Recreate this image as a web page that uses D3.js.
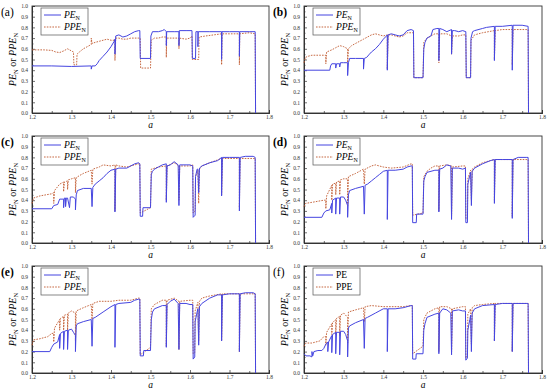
<!DOCTYPE html>
<html>
<head>
<meta charset="utf-8">
<script src="https://cdn.jsdelivr.net/npm/d3@7"></script>
<style>
  body { margin: 0; background: #fff; }
  svg, svg text { font-family: "Liberation Serif", "Times New Roman", serif; }
</style>
</head>
<body>
<svg id="chart" width="550" height="392"></svg>
<script>
// x ticks / y ticks
var xTicks = [1.2, 1.3, 1.4, 1.5, 1.6, 1.7, 1.8];
var yTicks = [0, 0.1, 0.2, 0.3, 0.4, 0.5, 0.6, 0.7, 0.8, 0.9, 1.0];
var panelLabels = ["(a)", "(b)", "(c)", "(d)", "(e)", "(f)"];

// [a, value]
var peA = [[1.2,0.44],[1.25,0.44],[1.3,0.435],[1.35,0.44],[1.35,0.41],[1.352,0.44],[1.36,0.44],[1.365,0.46],[1.37,0.49],[1.38,0.53],[1.39,0.57],[1.40,0.62],[1.408,0.67],[1.41,0.69],[1.41,0.55],[1.412,0.72],[1.42,0.73],[1.43,0.71],[1.44,0.72],[1.45,0.74],[1.46,0.76],[1.47,0.77],[1.473,0.77],[1.474,0.51],[1.50,0.51],[1.501,0.72],[1.505,0.76],[1.52,0.76],[1.53,0.77],[1.535,0.78],[1.54,0.76],[1.54,0.63],[1.541,0.76],[1.56,0.76],[1.572,0.76],[1.572,0.63],[1.573,0.77],[1.59,0.77],[1.605,0.77],[1.606,0.51],[1.614,0.51],[1.615,0.76],[1.62,0.76],[1.62,0.62],[1.621,0.76],[1.65,0.76],[1.68,0.76],[1.68,0.5],[1.681,0.76],[1.70,0.76],[1.725,0.76],[1.725,0.53],[1.726,0.76],[1.75,0.76],[1.765,0.76],[1.766,0.0]];
var ppeA = [[1.2,0.59],[1.23,0.59],[1.25,0.585],[1.26,0.57],[1.27,0.565],[1.28,0.58],[1.29,0.60],[1.30,0.58],[1.305,0.57],[1.306,0.45],[1.313,0.45],[1.314,0.55],[1.32,0.57],[1.33,0.60],[1.34,0.62],[1.35,0.64],[1.35,0.70],[1.352,0.65],[1.36,0.66],[1.37,0.67],[1.38,0.68],[1.39,0.69],[1.40,0.68],[1.41,0.68],[1.41,0.49],[1.412,0.70],[1.42,0.70],[1.43,0.69],[1.44,0.69],[1.45,0.70],[1.46,0.70],[1.47,0.70],[1.474,0.70],[1.475,0.42],[1.50,0.42],[1.502,0.68],[1.51,0.70],[1.52,0.70],[1.53,0.71],[1.54,0.71],[1.54,0.52],[1.541,0.70],[1.56,0.70],[1.572,0.70],[1.572,0.6],[1.573,0.70],[1.59,0.69],[1.60,0.70],[1.605,0.72],[1.606,0.5],[1.622,0.5],[1.623,0.71],[1.64,0.72],[1.66,0.73],[1.68,0.74],[1.68,0.45],[1.681,0.74],[1.70,0.74],[1.725,0.74],[1.725,0.45],[1.726,0.74],[1.75,0.75],[1.765,0.74],[1.766,0.0]];

var peB = [[1.2,0.40],[1.265,0.40],[1.267,0.44],[1.27,0.46],[1.28,0.46],[1.28,0.42],[1.282,0.46],[1.29,0.46],[1.29,0.43],[1.292,0.47],[1.30,0.47],[1.31,0.47],[1.31,0.35],[1.312,0.47],[1.315,0.51],[1.33,0.51],[1.35,0.51],[1.35,0.41],[1.352,0.51],[1.358,0.52],[1.365,0.55],[1.37,0.57],[1.38,0.60],[1.39,0.64],[1.40,0.69],[1.408,0.72],[1.41,0.73],[1.41,0.40],[1.412,0.73],[1.42,0.74],[1.43,0.73],[1.44,0.72],[1.45,0.73],[1.46,0.77],[1.47,0.78],[1.476,0.77],[1.477,0.33],[1.50,0.33],[1.502,0.6],[1.505,0.66],[1.51,0.70],[1.52,0.72],[1.525,0.78],[1.535,0.79],[1.54,0.79],[1.54,0.49],[1.542,0.79],[1.55,0.78],[1.56,0.76],[1.572,0.78],[1.572,0.55],[1.574,0.77],[1.58,0.77],[1.59,0.76],[1.60,0.77],[1.608,0.76],[1.609,0.33],[1.62,0.33],[1.621,0.7],[1.625,0.76],[1.63,0.77],[1.65,0.79],[1.66,0.80],[1.68,0.81],[1.68,0.49],[1.682,0.81],[1.70,0.81],[1.725,0.82],[1.725,0.40],[1.727,0.82],[1.75,0.82],[1.765,0.81],[1.766,0.0]];
var ppeB = [[1.2,0.47],[1.204,0.52],[1.21,0.53],[1.22,0.54],[1.25,0.54],[1.255,0.54],[1.255,0.46],[1.257,0.57],[1.27,0.59],[1.28,0.61],[1.29,0.63],[1.30,0.62],[1.31,0.6],[1.31,0.47],[1.312,0.6],[1.32,0.63],[1.33,0.65],[1.34,0.67],[1.35,0.69],[1.36,0.71],[1.37,0.73],[1.38,0.74],[1.39,0.73],[1.40,0.72],[1.41,0.73],[1.41,0.41],[1.412,0.73],[1.42,0.73],[1.44,0.71],[1.45,0.72],[1.46,0.75],[1.47,0.75],[1.476,0.75],[1.477,0.33],[1.50,0.33],[1.502,0.66],[1.51,0.70],[1.52,0.72],[1.53,0.74],[1.54,0.74],[1.54,0.47],[1.542,0.74],[1.56,0.74],[1.572,0.72],[1.572,0.55],[1.574,0.72],[1.59,0.72],[1.60,0.73],[1.608,0.73],[1.609,0.33],[1.62,0.33],[1.621,0.68],[1.63,0.73],[1.65,0.75],[1.68,0.77],[1.68,0.5],[1.682,0.77],[1.70,0.78],[1.725,0.78],[1.725,0.45],[1.727,0.78],[1.76,0.78],[1.765,0.78],[1.766,0.0]];

var peC = [[1.2,0.32],[1.25,0.32],[1.255,0.35],[1.265,0.36],[1.27,0.41],[1.28,0.41],[1.28,0.33],[1.282,0.42],[1.285,0.42],[1.285,0.34],[1.287,0.42],[1.29,0.42],[1.295,0.33],[1.297,0.43],[1.305,0.43],[1.31,0.41],[1.31,0.31],[1.312,0.45],[1.315,0.49],[1.33,0.51],[1.35,0.51],[1.352,0.34],[1.354,0.52],[1.36,0.55],[1.37,0.58],[1.38,0.61],[1.39,0.65],[1.40,0.68],[1.41,0.69],[1.41,0.29],[1.412,0.69],[1.42,0.70],[1.44,0.70],[1.45,0.72],[1.46,0.74],[1.47,0.75],[1.473,0.74],[1.474,0.25],[1.48,0.25],[1.481,0.33],[1.50,0.33],[1.502,0.64],[1.505,0.67],[1.51,0.69],[1.52,0.71],[1.53,0.73],[1.54,0.74],[1.54,0.38],[1.542,0.72],[1.55,0.73],[1.56,0.76],[1.57,0.73],[1.572,0.35],[1.574,0.73],[1.59,0.73],[1.60,0.73],[1.607,0.72],[1.608,0.24],[1.613,0.26],[1.614,0.62],[1.618,0.69],[1.62,0.69],[1.622,0.47],[1.624,0.70],[1.63,0.72],[1.65,0.75],[1.67,0.77],[1.68,0.80],[1.68,0.44],[1.682,0.80],[1.70,0.80],[1.725,0.80],[1.725,0.30],[1.727,0.80],[1.74,0.81],[1.76,0.81],[1.765,0.80],[1.766,0.0]];
var ppeC = [[1.2,0.37],[1.204,0.42],[1.22,0.44],[1.25,0.46],[1.255,0.47],[1.255,0.37],[1.257,0.49],[1.27,0.55],[1.28,0.57],[1.28,0.48],[1.282,0.57],[1.29,0.58],[1.29,0.50],[1.292,0.59],[1.30,0.60],[1.31,0.61],[1.31,0.47],[1.312,0.61],[1.32,0.63],[1.33,0.65],[1.35,0.68],[1.352,0.55],[1.354,0.69],[1.37,0.71],[1.38,0.73],[1.40,0.72],[1.41,0.73],[1.41,0.30],[1.412,0.73],[1.42,0.72],[1.44,0.71],[1.46,0.73],[1.47,0.74],[1.473,0.74],[1.474,0.28],[1.50,0.33],[1.502,0.69],[1.52,0.71],[1.54,0.72],[1.54,0.40],[1.542,0.72],[1.56,0.75],[1.572,0.72],[1.572,0.40],[1.574,0.72],[1.60,0.72],[1.607,0.73],[1.608,0.28],[1.613,0.30],[1.614,0.62],[1.62,0.68],[1.622,0.37],[1.624,0.69],[1.63,0.72],[1.65,0.75],[1.68,0.79],[1.68,0.45],[1.682,0.79],[1.70,0.79],[1.725,0.79],[1.725,0.33],[1.727,0.79],[1.76,0.79],[1.765,0.79],[1.766,0.0]];

var peD = [[1.2,0.24],[1.245,0.24],[1.25,0.28],[1.255,0.30],[1.265,0.31],[1.27,0.37],[1.27,0.28],[1.272,0.40],[1.28,0.42],[1.28,0.27],[1.282,0.42],[1.29,0.42],[1.29,0.27],[1.292,0.43],[1.30,0.43],[1.305,0.40],[1.31,0.35],[1.31,0.24],[1.312,0.45],[1.315,0.49],[1.33,0.51],[1.35,0.53],[1.352,0.27],[1.354,0.54],[1.36,0.55],[1.37,0.58],[1.38,0.61],[1.39,0.64],[1.40,0.67],[1.41,0.68],[1.41,0.22],[1.412,0.68],[1.43,0.68],[1.45,0.69],[1.46,0.71],[1.47,0.72],[1.473,0.72],[1.474,0.19],[1.483,0.19],[1.484,0.27],[1.50,0.27],[1.502,0.58],[1.505,0.62],[1.51,0.66],[1.53,0.68],[1.54,0.68],[1.54,0.29],[1.542,0.69],[1.55,0.70],[1.56,0.73],[1.57,0.72],[1.572,0.22],[1.574,0.70],[1.59,0.70],[1.60,0.69],[1.607,0.70],[1.608,0.19],[1.612,0.19],[1.613,0.55],[1.618,0.63],[1.62,0.66],[1.622,0.35],[1.624,0.67],[1.63,0.70],[1.65,0.74],[1.67,0.77],[1.68,0.78],[1.68,0.37],[1.682,0.78],[1.70,0.78],[1.725,0.78],[1.725,0.23],[1.727,0.78],[1.74,0.80],[1.76,0.80],[1.765,0.80],[1.766,0.0]];
var ppeD = [[1.2,0.34],[1.204,0.37],[1.22,0.38],[1.25,0.40],[1.255,0.40],[1.255,0.32],[1.257,0.44],[1.27,0.54],[1.27,0.40],[1.272,0.55],[1.28,0.56],[1.28,0.45],[1.282,0.57],[1.29,0.58],[1.29,0.45],[1.292,0.59],[1.30,0.60],[1.31,0.60],[1.31,0.35],[1.312,0.62],[1.33,0.65],[1.35,0.69],[1.352,0.55],[1.354,0.69],[1.37,0.72],[1.38,0.73],[1.40,0.71],[1.42,0.70],[1.45,0.71],[1.47,0.74],[1.473,0.74],[1.474,0.26],[1.50,0.28],[1.502,0.62],[1.51,0.67],[1.52,0.70],[1.53,0.72],[1.54,0.72],[1.54,0.30],[1.542,0.72],[1.56,0.73],[1.572,0.72],[1.572,0.25],[1.574,0.71],[1.60,0.72],[1.607,0.72],[1.608,0.23],[1.612,0.23],[1.613,0.60],[1.62,0.68],[1.622,0.40],[1.624,0.69],[1.63,0.71],[1.65,0.75],[1.68,0.78],[1.68,0.40],[1.682,0.78],[1.725,0.78],[1.725,0.25],[1.727,0.78],[1.76,0.78],[1.765,0.78],[1.766,0.0]];

var peE = [[1.2,0.20],[1.245,0.20],[1.25,0.24],[1.255,0.27],[1.265,0.29],[1.27,0.36],[1.27,0.23],[1.272,0.37],[1.28,0.39],[1.28,0.22],[1.282,0.39],[1.29,0.40],[1.29,0.22],[1.292,0.40],[1.30,0.41],[1.305,0.38],[1.31,0.35],[1.31,0.20],[1.312,0.44],[1.315,0.46],[1.33,0.48],[1.35,0.50],[1.352,0.25],[1.354,0.51],[1.36,0.52],[1.38,0.57],[1.40,0.62],[1.41,0.64],[1.41,0.24],[1.412,0.64],[1.42,0.65],[1.45,0.66],[1.46,0.68],[1.47,0.69],[1.473,0.69],[1.474,0.16],[1.482,0.16],[1.483,0.21],[1.50,0.21],[1.502,0.50],[1.505,0.57],[1.51,0.60],[1.53,0.63],[1.54,0.63],[1.54,0.24],[1.542,0.64],[1.55,0.67],[1.56,0.69],[1.57,0.65],[1.572,0.22],[1.574,0.65],[1.59,0.65],[1.60,0.64],[1.607,0.64],[1.608,0.13],[1.612,0.15],[1.613,0.48],[1.618,0.57],[1.62,0.60],[1.622,0.26],[1.624,0.62],[1.63,0.65],[1.65,0.70],[1.67,0.73],[1.68,0.73],[1.68,0.30],[1.682,0.73],[1.70,0.74],[1.725,0.74],[1.725,0.20],[1.727,0.74],[1.74,0.75],[1.76,0.75],[1.765,0.74],[1.766,0.0]];
var ppeE = [[1.2,0.26],[1.204,0.31],[1.22,0.32],[1.24,0.34],[1.25,0.37],[1.255,0.37],[1.255,0.29],[1.257,0.42],[1.27,0.50],[1.27,0.40],[1.272,0.51],[1.28,0.53],[1.28,0.40],[1.282,0.54],[1.29,0.55],[1.29,0.40],[1.292,0.56],[1.30,0.58],[1.31,0.56],[1.31,0.30],[1.312,0.58],[1.33,0.61],[1.35,0.64],[1.352,0.50],[1.354,0.65],[1.37,0.67],[1.40,0.67],[1.42,0.68],[1.45,0.68],[1.47,0.70],[1.473,0.70],[1.474,0.17],[1.50,0.24],[1.502,0.60],[1.51,0.64],[1.52,0.66],[1.53,0.68],[1.54,0.68],[1.54,0.25],[1.542,0.68],[1.56,0.70],[1.572,0.67],[1.572,0.22],[1.574,0.67],[1.60,0.68],[1.607,0.68],[1.608,0.18],[1.612,0.19],[1.613,0.58],[1.62,0.66],[1.622,0.30],[1.624,0.67],[1.63,0.70],[1.65,0.72],[1.68,0.74],[1.68,0.30],[1.682,0.74],[1.725,0.74],[1.725,0.20],[1.727,0.74],[1.76,0.74],[1.765,0.74],[1.766,0.0]];

var peF = [[1.2,0.18],[1.205,0.16],[1.215,0.16],[1.22,0.15],[1.22,0.20],[1.222,0.16],[1.225,0.20],[1.235,0.21],[1.245,0.21],[1.25,0.23],[1.255,0.27],[1.26,0.29],[1.26,0.20],[1.262,0.29],[1.27,0.35],[1.27,0.19],[1.272,0.36],[1.28,0.38],[1.28,0.18],[1.282,0.38],[1.29,0.38],[1.29,0.17],[1.292,0.39],[1.30,0.39],[1.305,0.36],[1.31,0.30],[1.31,0.15],[1.312,0.42],[1.315,0.44],[1.33,0.47],[1.35,0.50],[1.352,0.23],[1.354,0.51],[1.36,0.52],[1.38,0.56],[1.40,0.60],[1.41,0.60],[1.41,0.20],[1.412,0.60],[1.43,0.60],[1.45,0.61],[1.47,0.63],[1.473,0.63],[1.474,0.13],[1.482,0.13],[1.483,0.18],[1.50,0.18],[1.502,0.40],[1.505,0.46],[1.51,0.52],[1.53,0.55],[1.54,0.56],[1.54,0.18],[1.542,0.56],[1.55,0.60],[1.56,0.59],[1.57,0.56],[1.572,0.17],[1.574,0.58],[1.59,0.59],[1.60,0.58],[1.607,0.58],[1.608,0.12],[1.612,0.14],[1.613,0.40],[1.618,0.50],[1.62,0.54],[1.622,0.20],[1.624,0.56],[1.63,0.60],[1.65,0.63],[1.68,0.64],[1.68,0.30],[1.682,0.64],[1.70,0.65],[1.725,0.65],[1.725,0.20],[1.727,0.65],[1.76,0.65],[1.765,0.65],[1.766,0.0]];
var ppeF = [[1.2,0.25],[1.204,0.28],[1.22,0.28],[1.24,0.30],[1.25,0.34],[1.255,0.34],[1.255,0.26],[1.257,0.38],[1.27,0.46],[1.27,0.36],[1.272,0.47],[1.28,0.50],[1.28,0.36],[1.282,0.51],[1.29,0.53],[1.29,0.35],[1.292,0.54],[1.30,0.56],[1.31,0.52],[1.31,0.28],[1.312,0.57],[1.33,0.59],[1.35,0.61],[1.352,0.48],[1.354,0.62],[1.37,0.63],[1.40,0.62],[1.42,0.62],[1.45,0.62],[1.47,0.63],[1.473,0.63],[1.474,0.18],[1.50,0.25],[1.502,0.50],[1.51,0.56],[1.52,0.58],[1.53,0.60],[1.54,0.61],[1.54,0.20],[1.542,0.62],[1.56,0.62],[1.572,0.60],[1.572,0.20],[1.574,0.60],[1.60,0.62],[1.607,0.62],[1.608,0.14],[1.612,0.16],[1.613,0.55],[1.62,0.60],[1.622,0.27],[1.624,0.61],[1.63,0.63],[1.65,0.64],[1.68,0.65],[1.68,0.30],[1.682,0.65],[1.725,0.65],[1.725,0.20],[1.727,0.65],[1.76,0.65],[1.765,0.65],[1.766,0.0]];

var peSeries = [peA, peB, peC, peD, peE, peF];
var ppeSeries = [ppeA, ppeB, ppeC, ppeD, ppeE, ppeF];

var blue = "#4545e0";
var red = "#c0582e";
var serif = "Liberation Serif";

var svg = d3.select("#chart").attr("font-family", serif);

// plot boxes: left column / right column, three rows
var cols = [[32, 269], [304, 542]];
var rows = [[6, 113], [136, 243], [266, 373]];

peSeries.forEach(function(pe, i) {
    var c = cols[i % 2], r = rows[Math.floor(i / 2)];
    var x = d3.scaleLinear().domain([1.2, 1.8]).range(c);
    var y = d3.scaleLinear().domain([0, 1]).range([r[1], r[0]]);
    var g = svg.append("g");

    // frame
    g.append("rect")
        .attr("x", c[0]).attr("y", r[0])
        .attr("width", c[1] - c[0]).attr("height", r[1] - r[0])
        .attr("fill", "none").attr("stroke", "#333").attr("stroke-width", 0.9);

    // ticks point inward
    g.append("g")
        .attr("transform", "translate(0," + r[1] + ")")
        .call(d3.axisBottom(x).tickValues(xTicks).tickFormat(d3.format(".1f")).tickSize(-3).tickPadding(2));
    g.append("g")
        .attr("transform", "translate(0," + r[1] + ")")
        .call(d3.axisBottom(x).tickValues([1.25, 1.35, 1.45, 1.55, 1.65, 1.75]).tickFormat("").tickSize(-2));
    g.append("g")
        .attr("transform", "translate(" + c[0] + ",0)")
        .call(d3.axisLeft(y).tickValues(yTicks).tickFormat(d3.format(".1f")).tickSize(-3).tickPadding(4));
    g.append("g")
        .attr("transform", "translate(" + c[0] + ",0)")
        .call(d3.axisLeft(y).tickValues([0.05, 0.15, 0.25, 0.35, 0.45, 0.55, 0.65, 0.75, 0.85, 0.95]).tickFormat("").tickSize(-1.5));
    g.selectAll("g").attr("font-family", serif);
    g.selectAll(".domain").attr("stroke", "#333");
    g.selectAll(".tick line").attr("stroke", "#333").attr("stroke-width", 0.7);
    g.selectAll(".tick text")
        .attr("font-size", "5.5px").attr("fill", "#333");

    var line = d3.line()
        .x(function(d) { return x(d[0]); })
        .y(function(d) { return y(d[1]); });

    g.append("path")
        .datum(ppeSeries[i])
        .attr("d", line)
        .attr("fill", "none")
        .attr("stroke", red)
        .attr("stroke-width", 0.9)
        .attr("stroke-dasharray", "1.6,1.2");

    g.append("path")
        .datum(pe)
        .attr("d", line)
        .attr("fill", "none")
        .attr("stroke", blue)
        .attr("stroke-width", 1);

    // panel label
    g.append("text")
        .attr("x", c[0] - 31).attr("y", r[0] + 10)
        .attr("font-size", "11.5px")
        .attr("font-weight", i == 0 || i == 5 ? "normal" : "bold")
        .text(panelLabels[i]);

    // y label
    var yl = g.append("text")
        .attr("transform", "translate(" + (c[0] - 16) + "," + ((r[0] + r[1]) / 2) + ")rotate(-90)")
        .attr("text-anchor", "middle")
        .attr("font-size", "10px")
        .attr("font-style", "italic");
    yl.append("tspan").text("PE");
    yl.append("tspan").attr("dy", 2).attr("font-size", "6.5px").attr("font-style", "normal").text("N");
    yl.append("tspan").attr("dy", -2).attr("font-style", "normal").text(" or ");
    yl.append("tspan").text("PPE");
    yl.append("tspan").attr("dy", 2).attr("font-size", "6.5px").attr("font-style", "normal").text("N");

    // x label
    g.append("text")
        .attr("x", (c[0] + c[1]) / 2).attr("y", r[1] + 14.5)
        .attr("text-anchor", "middle")
        .attr("font-size", "9.5px")
        .attr("font-style", "italic")
        .text("a");

    // legend
    var lx = c[0] + 9, ly = r[0] + 2;
    g.append("rect")
        .attr("x", lx).attr("y", ly).attr("width", 47).attr("height", 27)
        .attr("fill", "#fff").attr("stroke", "#555").attr("stroke-width", 0.7);
    g.append("line")
        .attr("x1", lx + 3).attr("x2", lx + 20).attr("y1", ly + 7).attr("y2", ly + 7)
        .attr("stroke", blue).attr("stroke-width", 1);
    g.append("line")
        .attr("x1", lx + 3).attr("x2", lx + 20).attr("y1", ly + 19).attr("y2", ly + 19)
        .attr("stroke", red).attr("stroke-width", 0.9).attr("stroke-dasharray", "1.6,1.2");
    ["PE", "PPE"].forEach(function(nm, k) {
        var t = g.append("text")
            .attr("x", lx + 23).attr("y", ly + 10 + k * 12)
            .attr("font-size", "9.5px")
            .attr("font-style", i == 5 ? "normal" : "italic");
        t.append("tspan").text(nm);
        if (i != 5) {
            t.append("tspan").attr("dy", 2).attr("font-size", "6px").attr("font-style", "normal").text("N");
        }
    });
});
</script>
</body>
</html>
